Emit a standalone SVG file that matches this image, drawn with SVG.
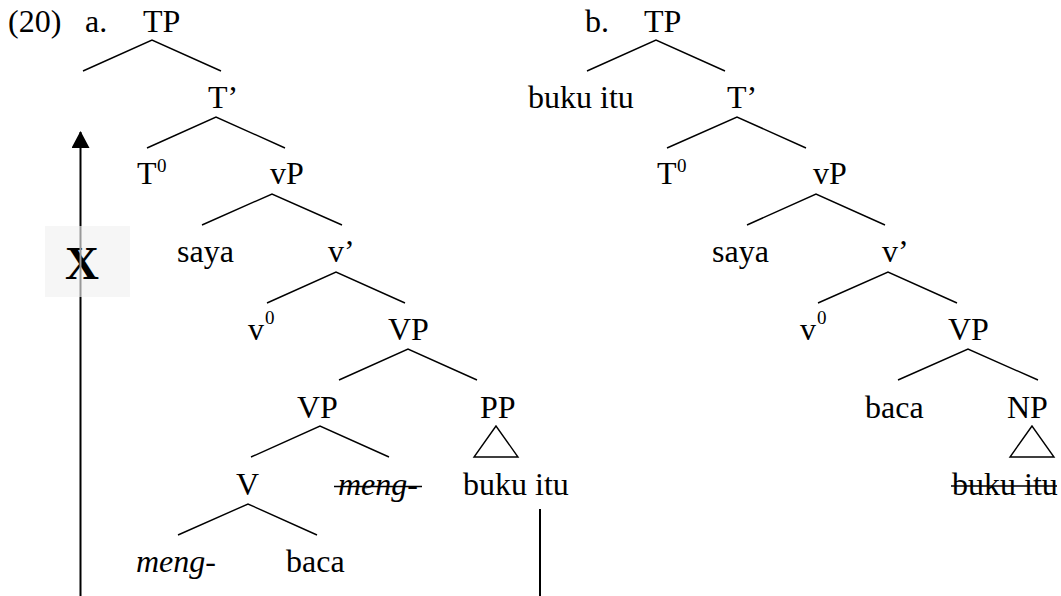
<svg xmlns="http://www.w3.org/2000/svg" width="1061" height="596" viewBox="0 0 1061 596">
<style>
text{font-family:"Liberation Serif","Times New Roman",serif;font-size:32px;fill:#000}
.sup{font-size:19px}
.it{font-style:italic}
.bx{font-weight:bold;font-size:47px}
.br{stroke:#000;stroke-width:1.4;fill:none}
.tri{stroke:#000;stroke-width:1.4;fill:#fff}
.strike{stroke:#000;stroke-width:1.6}
.mv{stroke:#000;stroke-width:2;fill:none}
</style>
<defs>
<marker id="ah" markerUnits="userSpaceOnUse" markerWidth="18" markerHeight="18" refX="15" refY="8.5" orient="auto" viewBox="0 0 17 17">
<path d="M0,0 L16,8.5 L0,17 Z" fill="#000"/>
</marker>
</defs>
<rect width="1061" height="596" fill="#fff"/>

<g id="label-20"><text x="8" y="32">(20)</text></g>
<g id="label-a"><text x="85" y="32">a.</text></g>
<g id="label-b"><text x="585" y="32">b.</text></g>

<!-- Tree a -->
<g id="a-TP"><text x="143" y="32">TP</text></g>
<g id="a-Tbar"><text x="208" y="108">T’</text></g>
<g id="a-T0"><text x="137" y="184">T</text><text class="sup" x="157" y="172">0</text></g>
<g id="a-vP"><text x="270" y="184">vP</text></g>
<g id="a-saya"><text x="177" y="262">saya</text></g>
<g id="a-vbar"><text x="328" y="262">v’</text></g>
<g id="a-v0"><text x="248" y="340">v</text><text class="sup" x="265" y="324">0</text></g>
<g id="a-VP1"><text x="388" y="340">VP</text></g>
<g id="a-VP2"><text x="297" y="418">VP</text></g>
<g id="a-PP"><text x="480" y="418">PP</text></g>
<g id="a-V"><text x="236" y="495">V</text></g>
<g id="a-meng-struck"><text class="it" x="338" y="495">meng-</text><line class="strike" x1="334" y1="486.5" x2="422" y2="486.5"/></g>
<g id="a-bukuitu"><text x="463" y="495">buku itu</text></g>
<g id="a-meng"><text x="136" y="572"><tspan class="it">meng</tspan>-</text></g>
<g id="a-baca"><text x="286" y="572">baca</text></g>
<g id="a-X">
<rect x="45" y="226" width="85" height="71" fill="#f6f6f6"/>
<text class="bx" x="65" y="279">X</text>
</g>

<!-- Tree b -->
<g id="b-TP"><text x="644" y="32">TP</text></g>
<g id="b-bukuitu"><text x="528" y="108">buku itu</text></g>
<g id="b-Tbar"><text x="727" y="108">T’</text></g>
<g id="b-T0"><text x="657" y="184">T</text><text class="sup" x="677" y="172">0</text></g>
<g id="b-vP"><text x="813" y="184">vP</text></g>
<g id="b-saya"><text x="712" y="262">saya</text></g>
<g id="b-vbar"><text x="882" y="262">v’</text></g>
<g id="b-v0"><text x="800" y="340">v</text><text class="sup" x="817" y="324">0</text></g>
<g id="b-VP"><text x="948" y="340">VP</text></g>
<g id="b-baca"><text x="865" y="418">baca</text></g>
<g id="b-NP"><text x="1007" y="418">NP</text></g>
<g id="b-bukuitu-struck"><text x="952" y="495">buku itu</text><line class="strike" x1="951" y1="486" x2="1057" y2="486"/></g>

<g id="connectors">
<!-- tree a branches -->
<polyline class="br" points="83,71 152,40 221,71"/>
<polyline class="br" points="147,148 216,117 285,148"/>
<polyline class="br" points="202,225 272,194 342,225"/>
<polyline class="br" points="267,303 336,272 405,303"/>
<polyline class="br" points="339,380 408,349 477,380"/>
<polyline class="br" points="251,457 320,426 389,457"/>
<polygon class="tri" points="496,426 474,457 518,457"/>
<polyline class="br" points="178,535 248,504 317,535"/>
<!-- tree b branches -->
<polyline class="br" points="587,71 656,40 725,71"/>
<polyline class="br" points="667,148 737,117 806,148"/>
<polyline class="br" points="747,225 816,194 885,225"/>
<polyline class="br" points="818,303 888,272 957,303"/>
<polyline class="br" points="898,380 968,349 1038,380"/>
<polygon class="tri" points="1032,426 1010,457 1054,457"/>
<!-- movement arrow -->
<line class="mv" x1="80.5" y1="596" x2="80.5" y2="297"/>
<line x1="80.5" y1="297" x2="80.5" y2="226" stroke="#999" stroke-width="2"/>
<line class="mv" x1="80.5" y1="226" x2="80.5" y2="132" marker-end="url(#ah)"/>
<line class="mv" x1="540" y1="509" x2="540" y2="596"/>
</g>
</svg>
